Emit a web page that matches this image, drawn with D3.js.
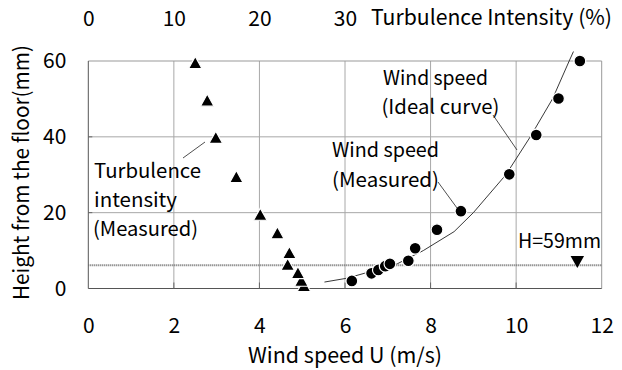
<!DOCTYPE html>
<html>
<head>
<meta charset="utf-8">
<script src="https://cdn.jsdelivr.net/npm/d3@7"></script>
<style>
  html, body { margin: 0; padding: 0; background: #fff; }
  svg { display: block; }
  text { font-family: "Noto Sans CJK JP", "Noto Sans", sans-serif; fill: #000; }
</style>
</head>
<body>
<svg id="chart" width="622" height="370"></svg>
<script>
// Wind speed measured at each height (mm, m/s)
const windH = [2.0, 4.0, 4.9, 5.9, 6.5, 7.3, 10.6, 15.5, 20.4, 30.1, 40.5, 50.1, 60.0];
const windU = [6.16, 6.62, 6.78, 6.94, 7.05, 7.48, 7.64, 8.15, 8.71, 9.84, 10.47, 10.99, 11.49];

// Turbulence intensity measured at each height (mm, %)
const turbH = [0.8, 2.2, 4.2, 6.4, 9.5, 14.7, 19.6, 29.5, 39.9, 49.7, 59.6];
const turbTI = [25.2, 24.9, 24.5, 23.3, 23.5, 22.1, 20.1, 17.3, 14.9, 13.9, 12.5];

// Ideal wind profile (mm, m/s)
const idealH = [1.7, 2.7, 4.0, 6.5, 10.0, 15.0, 20.0, 30.0, 40.0, 50.0, 60.0, 62.5];
const idealU = [5.52, 6.04, 6.45, 7.22, 7.83, 8.55, 9.0, 9.76, 10.33, 10.85, 11.24, 11.34];

// Model height marker and floor reference line
const hMarkU = 11.43, hMarkH = 7.0;
const refLineH = 6.1;

// Axis ticks
const xTicks = [0, 2, 4, 6, 8, 10, 12];
const yTicks = [0, 20, 40, 60];
const topTicks = [0, 10, 20, 30];

const svg = d3.select("#chart");
const L = 88.3, R = 601.7, T = 61, B = 288.5;

const x = d3.scaleLinear().domain([0, 12]).range([L, R]);
const xTop = d3.scaleLinear().domain([0, 60]).range([L, R]);
const y = d3.scaleLinear().domain([0, 60]).range([B, T]);

// grid
const grid = svg.append("g").attr("stroke", "#a8a8a8").attr("stroke-width", 1);
xTicks.filter(d => d > 0 && d < 12).forEach(d => {
  grid.append("line").attr("x1", x(d)).attr("x2", x(d)).attr("y1", T).attr("y2", B);
});
yTicks.filter(d => d > 0 && d < 60).forEach(d => {
  grid.append("line").attr("x1", L).attr("x2", R).attr("y1", y(d)).attr("y2", y(d));
});

// frame: top/right light, left/bottom dark
svg.append("line").attr("x1", L).attr("x2", R).attr("y1", T).attr("y2", T).attr("stroke", "#999");
svg.append("line").attr("x1", R).attr("x2", R).attr("y1", T).attr("y2", B).attr("stroke", "#999");
svg.append("line").attr("x1", L).attr("x2", L).attr("y1", T).attr("y2", B).attr("stroke", "#555");
svg.append("line").attr("x1", L).attr("x2", R).attr("y1", B).attr("y2", B).attr("stroke", "#555");

// short inside ticks
xTicks.filter(d => d > 0 && d < 12).forEach(d => {
  svg.append("line").attr("x1", x(d)).attr("x2", x(d)).attr("y1", B - 6).attr("y2", B).attr("stroke", "#666");
});
yTicks.filter(d => d > 0 && d < 60).forEach(d => {
  svg.append("line").attr("x1", L).attr("x2", L + 4).attr("y1", y(d)).attr("y2", y(d)).attr("stroke", "#666");
});

// dotted reference line
svg.append("line")
  .attr("x1", L).attr("x2", R)
  .attr("y1", y(refLineH)).attr("y2", y(refLineH))
  .attr("stroke", "#6a6a6a").attr("stroke-width", 2)
  .attr("stroke-dasharray", "1,1");

// axes (labels only)
const xAxis = svg.append("g").attr("transform", `translate(0,${B})`)
  .call(d3.axisBottom(x).tickValues(xTicks).tickSize(0).tickPadding(30).tickFormat(d3.format("d")));
const topAxis = svg.append("g").attr("transform", `translate(0,${T})`)
  .call(d3.axisTop(xTop).tickValues(topTicks).tickSize(0).tickPadding(35).tickFormat(d3.format("d")));
const yAxis = svg.append("g").attr("transform", `translate(${L},0)`)
  .call(d3.axisLeft(y).tickValues(yTicks).tickSize(0).tickPadding(22).tickFormat(d3.format("d")));
[xAxis, topAxis, yAxis].forEach(a => {
  a.select(".domain").remove();
  a.selectAll("text").attr("font-size", 21).style("font-family", '"Noto Sans CJK JP", sans-serif');
});

// ideal curve
const line = d3.line().x(d => x(d[1])).y(d => y(d[0]));
svg.append("path")
  .datum(idealH.map((h, i) => [h, idealU[i]]))
  .attr("d", line)
  .attr("fill", "none").attr("stroke", "#222").attr("stroke-width", 0.9);

// turbulence triangles (drawn bottom-up, white outline)
const tri = (cx, cy, w, up) => {
  const h = w * 0.9;
  return up
    ? `M${cx},${cy - h / 2}L${cx + w / 2},${cy + h / 2}L${cx - w / 2},${cy + h / 2}Z`
    : `M${cx - w / 2},${cy - h / 2}L${cx + w / 2},${cy - h / 2}L${cx},${cy + h / 2}Z`;
};
svg.append("g").selectAll("path")
  .data(turbH.map((h, i) => [h, turbTI[i]]))
  .join("path")
  .attr("d", d => tri(xTop(d[1]), y(d[0]), 13.5, true))
  .attr("fill", "#000").attr("stroke", "#fff").attr("stroke-width", 1.2);

// wind speed circles
svg.append("g").selectAll("circle")
  .data(windH.map((h, i) => [h, windU[i]]))
  .join("circle")
  .attr("cx", d => x(d[1])).attr("cy", d => y(d[0])).attr("r", 5.9)
  .attr("fill", "#000").attr("stroke", "#fff").attr("stroke-width", 1.2);

// model height marker
svg.append("path").attr("d", tri(x(hMarkU), y(hMarkH), 13.5, false)).attr("fill", "#000");

// annotations
const addText = (tx, ty, s, size, len) => {
  const t = svg.append("text").attr("x", tx).attr("y", ty).attr("font-size", size).text(s);
  if (len) t.attr("textLength", len).attr("lengthAdjust", "spacingAndGlyphs");
  return t;
};
const leader = (x1, y1, x2, y2) => svg.append("line")
  .attr("x1", x1).attr("y1", y1).attr("x2", x2).attr("y2", y2)
  .attr("stroke", "#222").attr("stroke-width", 0.8);

addText(94, 178, "Turbulence", 20, 107);
addText(94, 207, "intensity", 20, 83);
addText(93, 236, "(Measured)", 20, 105);
leader(183, 158, 205, 142);

addText(383, 85, "Wind speed", 20, 105);
addText(381.5, 114, "(Ideal curve)", 20, 118);
leader(493, 115, 517, 150);

addText(332, 157, "Wind speed", 20, 107);
addText(332, 187, "(Measured)", 20, 107);
leader(438, 182, 457, 208);

addText(518, 248, "H=59mm", 20, 83);

// titles
addText(248, 363, "Wind speed U (m/s)", 21, 194);
addText(371, 25, "Turbulence Intensity (%)", 21, 241);
svg.append("text")
  .attr("transform", "translate(29,300) rotate(-90)")
  .attr("font-size", 21)
  .attr("textLength", 255).attr("lengthAdjust", "spacingAndGlyphs")
  .text("Height from the floor(mm)");
</script>
</body>
</html>
